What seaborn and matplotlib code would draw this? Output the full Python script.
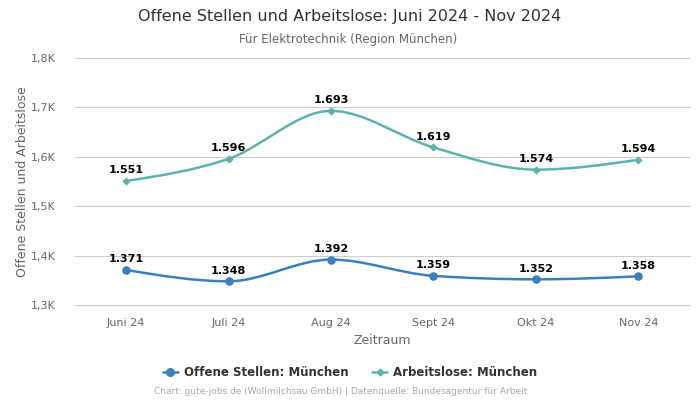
import numpy as np
import matplotlib
matplotlib.use("Agg")
import matplotlib.pyplot as plt
from matplotlib.path import Path
from matplotlib.patches import PathPatch
from matplotlib.lines import Line2D
from matplotlib.ticker import FuncFormatter
import seaborn as sns

months = ["Juni 24", "Juli 24", "Aug 24", "Sept 24", "Okt 24", "Nov 24"]
offene = [1371, 1348, 1392, 1359, 1352, 1358]
arbeitslose = [1551, 1596, 1693, 1619, 1574, 1594]

blue = "#3a80c0"
teal = "#5ab4ac"
grey = "#666666"

sns.set_theme(style="white")
plt.rcParams["font.family"] = ["DejaVu Sans"]


def monotone_path(xs, ys):
    # cubic bezier path like d3 curveMonotoneX
    xs = np.asarray(xs, float)
    ys = np.asarray(ys, float)
    n = len(xs)
    h = np.diff(xs)
    s = np.diff(ys) / h
    t = np.zeros(n)
    for i in range(1, n - 1):
        p = (s[i - 1] * h[i] + s[i] * h[i - 1]) / (h[i - 1] + h[i])
        t[i] = (np.sign(s[i - 1]) + np.sign(s[i])) * min(abs(s[i - 1]), abs(s[i]), 0.5 * abs(p))
    t[0] = (3 * s[0] - t[1]) / 2
    t[-1] = (3 * s[-1] - t[-2]) / 2
    verts = [(xs[0], ys[0])]
    codes = [Path.MOVETO]
    for i in range(n - 1):
        d = h[i] / 3
        verts += [(xs[i] + d, ys[i] + d * t[i]),
                  (xs[i + 1] - d, ys[i + 1] - d * t[i + 1]),
                  (xs[i + 1], ys[i + 1])]
        codes += [Path.CURVE4] * 3
    return Path(verts, codes)


fig = plt.figure(figsize=(7, 4), dpi=100)
ax = fig.add_axes([0.107, 0.2375, 0.878, 0.6175])

x = np.arange(len(months))
for vals, col, mk, ms in [(offene, blue, "o", 38), (arbeitslose, teal, "D", 18)]:
    ax.add_patch(PathPatch(monotone_path(x, vals), facecolor="none",
                           edgecolor=col, lw=1.8, zorder=3))
    sns.scatterplot(x=x, y=vals, color=col, marker=mk, s=ms, linewidth=0,
                    ax=ax, zorder=4)
    for xi, v in zip(x, vals):
        ax.annotate(f"{v/1000:.3f}", (xi, v), xytext=(0, 4),
                    textcoords="offset points", ha="center", va="bottom",
                    fontsize=8, fontweight="bold", color="black", zorder=5)

ax.set_xlim(-0.5, 5.5)
ax.set_ylim(1300, 1800)
ax.set_yticks([1300, 1400, 1500, 1600, 1700, 1800])
ax.yaxis.set_major_formatter(FuncFormatter(lambda v, p: f"{v/1000:.1f}K".replace(".", ",")))
ax.set_xticks(x)
ax.set_xticklabels(months)
ax.tick_params(axis="both", labelsize=8, colors=grey, length=0)
ax.tick_params(axis="x", pad=9)
ax.tick_params(axis="y", pad=14)
ax.grid(axis="y", color="#cccccc", lw=0.8)
for gl in ax.get_ygridlines():
    gl.set_clip_on(False)
ax.set_axisbelow(True)
for sp in ax.spines.values():
    sp.set_visible(False)

ax.set_xlabel("Zeitraum", fontsize=9, color=grey, labelpad=5)
ax.set_ylabel("Offene Stellen und Arbeitslose", fontsize=9, color=grey, labelpad=0)
ax.yaxis.set_label_coords(-0.075, 0.5)

fig.text(0.5, 0.958, "Offene Stellen und Arbeitslose: Juni 2024 - Nov 2024",
         ha="center", va="center", fontsize=11.5, color="#333333")
fig.text(0.497, 0.902, "Für Elektrotechnik (Region München)",
         ha="center", va="center", fontsize=8.5, color=grey)

handles = [Line2D([], [], color=blue, marker="o", ms=5.5, lw=1.8),
           Line2D([], [], color=teal, marker="D", ms=3.5, lw=1.8)]
leg = fig.legend(handles, ["Offene Stellen: München", "Arbeitslose: München"],
                 loc="center", bbox_to_anchor=(0.5, 0.068), ncol=2, frameon=False,
                 handlelength=1.3, handletextpad=0.5, columnspacing=2.0,
                 prop={"size": 8.5, "weight": "bold"})
for txt in leg.get_texts():
    txt.set_color("#333333")

fig.text(0.486, 0.02, "Chart: gute-jobs.de (Wollmilchsau GmbH) | Datenquelle: Bundesagentur für Arbeit",
         ha="center", va="center", fontsize=6.5, color="#aaaaaa")

fig.savefig("out.png", dpi=100)
